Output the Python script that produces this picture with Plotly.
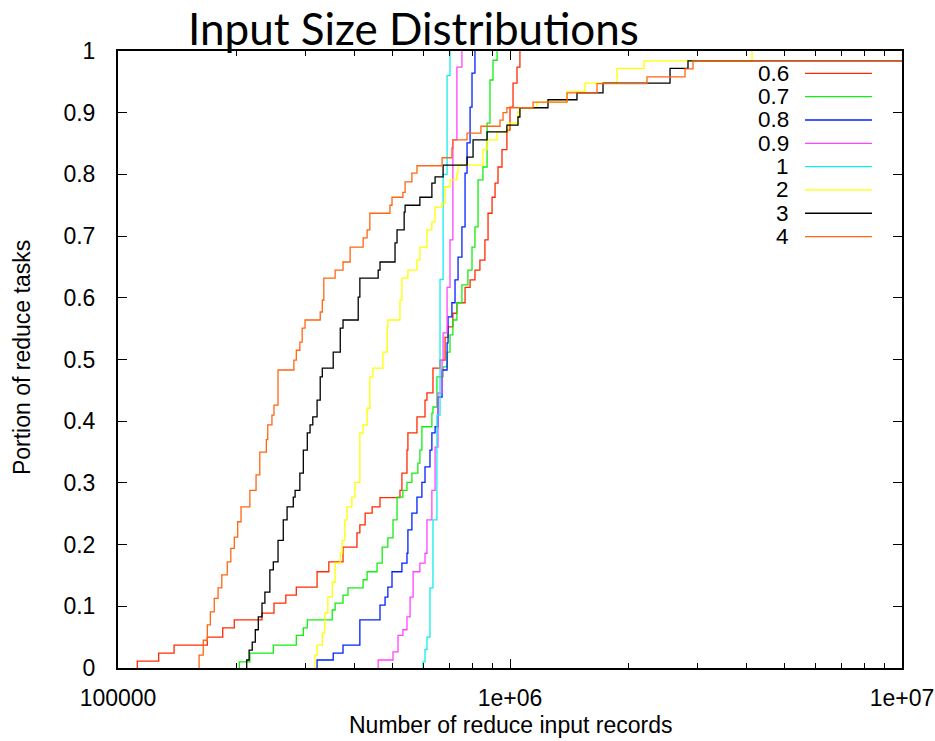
import plotly.graph_objects as go

# ---------------- data (x in thousands of records, y = cumulative fraction) -------------
names = ["0.6", "0.7", "0.8", "0.9", "1", "2", "3", "4"]
colors = ["#ff2a00", "#11ee11", "#0022ff", "#ff44ff", "#11eeee", "#ffff00", "#000000", "#ff6611"]

x_06 = [112, 127, 139, 169, 185, 198, 233, 250, 268, 285, 322, 345, 375, 407, 414, 427, 445, 466, 524, 530,
        546, 549, 579, 607, 614, 636, 663, 683, 695, 715, 732, 768, 791, 814, 838, 863, 879, 900, 916, 932,
        954, 982, 1000, 1018, 1042, 1060]
y_06 = [0.011, 0.024, 0.037, 0.050, 0.065, 0.078, 0.089, 0.105, 0.118, 0.131, 0.156, 0.172, 0.196, 0.219, 0.232,
        0.251, 0.261, 0.276, 0.288, 0.316, 0.353, 0.381, 0.407, 0.434, 0.446, 0.486, 0.499, 0.536, 0.553, 0.575,
        0.592, 0.617, 0.629, 0.645, 0.661, 0.694, 0.737, 0.763, 0.786, 0.812, 0.840, 0.872, 0.909, 0.948, 0.974, 1.0]

x_07 = [204, 217, 249, 285, 297, 304, 352, 358, 375, 386, 422, 432, 458, 472, 488, 503, 515, 533, 546, 562,
        582, 589, 596, 632, 636, 651, 675, 691, 703, 715, 732, 754, 781, 800, 814, 829, 853, 874, 889, 905, 927]
y_07 = [0.010, 0.024, 0.037, 0.053, 0.065, 0.078, 0.094, 0.105, 0.118, 0.130, 0.143, 0.156, 0.170, 0.196, 0.211,
        0.240, 0.277, 0.288, 0.301, 0.316, 0.332, 0.353, 0.391, 0.413, 0.423, 0.472, 0.488, 0.512, 0.540, 0.564,
        0.592, 0.621, 0.645, 0.682, 0.715, 0.791, 0.812, 0.883, 0.953, 0.985, 1.0]

x_08 = [322, 354, 375, 414, 466, 480, 488, 500, 530, 546, 549, 562, 579, 596, 607, 625, 632, 644, 655, 671,
        691, 695, 711, 724, 737, 754, 768, 777, 791, 800, 814]
y_08 = [0.013, 0.024, 0.037, 0.078, 0.102, 0.115, 0.131, 0.156, 0.170, 0.186, 0.224, 0.251, 0.277, 0.301, 0.326,
        0.353, 0.381, 0.391, 0.439, 0.483, 0.527, 0.569, 0.592, 0.629, 0.666, 0.715, 0.802, 0.851, 0.909, 0.964, 1.0]

x_09 = [461, 503, 518, 533, 546, 556, 566, 589, 607, 614, 632, 644, 655, 671, 675, 691, 703, 715, 732, 754]
y_09 = [0.013, 0.026, 0.053, 0.062, 0.083, 0.115, 0.156, 0.170, 0.186, 0.240, 0.288, 0.358, 0.446, 0.499, 0.543,
        0.617, 0.694, 0.856, 0.974, 1.0]

x_1 = [600, 607, 614, 625, 636, 651, 663, 675, 691, 703]
y_1 = [0.010, 0.030, 0.050, 0.130, 0.240, 0.410, 0.630, 0.800, 0.960, 1.0]

x_2 = [318, 322, 332, 337, 343, 352, 358, 369, 373, 379, 384, 395, 402, 414, 422, 432, 439, 447, 474, 486,
       488, 524, 530, 549, 579, 589, 614, 632, 644, 671, 683, 703, 732, 737, 853, 874, 927, 988, 1048, 1060,
       1172, 1398, 1554, 1875, 2197, 4144]
y_2 = [0.021, 0.037, 0.057, 0.089, 0.115, 0.139, 0.170, 0.186, 0.207, 0.240, 0.261, 0.277, 0.301, 0.381, 0.394,
       0.421, 0.472, 0.486, 0.512, 0.551, 0.564, 0.596, 0.632, 0.645, 0.661, 0.682, 0.710, 0.723, 0.747, 0.754,
       0.780, 0.791, 0.802, 0.815, 0.840, 0.856, 0.869, 0.883, 0.901, 0.908, 0.917, 0.934, 0.948, 0.972, 0.984, 1.0]

x_3 = [213, 216, 220, 224, 228, 233, 237, 244, 249, 256, 264, 270, 280, 283, 291, 297, 304, 309, 314, 322,
       328, 332, 354, 369, 375, 410, 414, 461, 466, 509, 515, 537, 540, 589, 632, 644, 675, 777, 805, 874,
       982, 1048, 1060, 1250, 1482, 1727, 2560, 2845, 10000]
y_3 = [0.013, 0.029, 0.042, 0.062, 0.083, 0.105, 0.123, 0.159, 0.172, 0.207, 0.240, 0.261, 0.277, 0.288, 0.316,
       0.353, 0.381, 0.394, 0.407, 0.434, 0.472, 0.486, 0.512, 0.551, 0.564, 0.601, 0.632, 0.645, 0.658, 0.689,
       0.710, 0.739, 0.750, 0.763, 0.786, 0.796, 0.815, 0.828, 0.856, 0.869, 0.880, 0.893, 0.908, 0.921, 0.932,
       0.948, 0.972, 0.984, 0.984]

x_4 = [161, 165, 169, 172, 176, 180, 184, 190, 194, 198, 202, 206, 217, 225, 230, 239, 241, 247, 250, 256,
       281, 285, 291, 295, 300, 328, 332, 335, 358, 375, 391, 422, 432, 439, 494, 500, 533, 540, 562, 579,
       671, 711, 715, 777, 843, 943, 960, 982, 1145, 1398, 1667, 2236, 2795, 2930, 10000]
y_4 = [0.021, 0.045, 0.070, 0.091, 0.113, 0.130, 0.151, 0.172, 0.194, 0.212, 0.237, 0.261, 0.288, 0.313, 0.350,
       0.370, 0.394, 0.410, 0.426, 0.483, 0.499, 0.515, 0.528, 0.551, 0.564, 0.577, 0.596, 0.632, 0.645, 0.658,
       0.682, 0.697, 0.710, 0.737, 0.750, 0.763, 0.771, 0.788, 0.802, 0.814, 0.827, 0.843, 0.856, 0.867, 0.878,
       0.888, 0.900, 0.908, 0.917, 0.932, 0.947, 0.958, 0.971, 0.984, 0.984]

series_x = [x_06, x_07, x_08, x_09, x_1, x_2, x_3, x_4]
series_y = [y_06, y_07, y_08, y_09, y_1, y_2, y_3, y_4]

x_tick_vals = [1e5, 1e6, 1e7]
x_tick_text = ["100000", "1e+06", "1e+07"]
x_minor_vals = [m * 10 ** e for e in (5, 6) for m in range(2, 10)]
y_tick_vals = [i / 10 for i in range(11)]
y_tick_text = ["0", "0.1", "0.2", "0.3", "0.4", "0.5", "0.6", "0.7", "0.8", "0.9", "1"]

title_text = "Input Size Distributions"
x_title = "Number of reduce input records"
y_title = "Portion of reduce tasks"

# ---------------- figure -------------
fig = go.Figure()
for name, col, xs, ys in zip(names, colors, series_x, series_y):
    xv = [xs[0] * 1000] + [v * 1000 for v in xs]
    yv = [0.0] + list(ys)
    fig.add_trace(go.Scatter(x=xv, y=yv, mode="lines", name=name,
                             line=dict(color=col, width=1.3, shape="hv"),
                             showlegend=False, hoverinfo="skip"))

FONT = "Liberation Sans, Arial, Helvetica, sans-serif"
axis_common = dict(showline=True, linewidth=2, linecolor="black", mirror="ticks",
                   ticks="inside", ticklen=9, tickwidth=1.2, tickcolor="black",
                   showgrid=False, zeroline=False, automargin=False,
                   tickfont=dict(family=FONT, size=23, color="black"))

fig.update_layout(
    width=935, height=741,
    margin=dict(l=118, r=33, t=51, b=73, autoexpand=False),
    plot_bgcolor="white", paper_bgcolor="white",
    showlegend=False,
    font=dict(family=FONT, size=23, color="black"),
    xaxis=dict(type="log", range=[5, 7], tickmode="array", tickvals=x_tick_vals, ticktext=x_tick_text,
               ticklabelstandoff=8,
               minor=dict(tickmode="array", tickvals=x_minor_vals, ticks="inside", ticklen=5,
                          tickwidth=1.2, tickcolor="black", showgrid=False),
               **axis_common),
    yaxis=dict(range=[0, 1], tickmode="array", tickvals=y_tick_vals, ticktext=y_tick_text,
               ticklabelstandoff=16, **axis_common),
)

# title and axis titles
fig.add_annotation(text=title_text, xref="paper", yref="paper", x=0.3775, y=1.037,
                   xanchor="center", yanchor="middle", showarrow=False,
                   font=dict(family="Lato, Carlito, sans-serif", size=44, color="black"))
fig.add_annotation(text=x_title, xref="paper", yref="paper", x=0.5, y=-0.0924,
                   xanchor="center", yanchor="middle", showarrow=False,
                   font=dict(family=FONT, size=23, color="black"))
fig.add_annotation(text=y_title, xref="paper", yref="paper", x=-0.1224, y=0.5024, textangle=-90,
                   xanchor="center", yanchor="middle", showarrow=False,
                   font=dict(family=FONT, size=23, color="black"))

# gnuplot-style key: label right-aligned, sample line to its right
key_text_x = 0.8584
key_line_x0, key_line_x1 = 0.8763, 0.9617
key_top_y, key_step = 0.9638, 0.0378
for i, (name, col) in enumerate(zip(names, colors)):
    yk = key_top_y - i * key_step
    fig.add_annotation(text=name, xref="paper", yref="paper", x=key_text_x, y=yk,
                       xanchor="right", yanchor="middle", showarrow=False,
                       font=dict(family=FONT, size=22.5, color="black"))
    fig.add_shape(type="line", xref="paper", yref="paper", x0=key_line_x0, x1=key_line_x1, y0=yk, y1=yk,
                  line=dict(color=col, width=1.3))

fig.write_html("out.html")
